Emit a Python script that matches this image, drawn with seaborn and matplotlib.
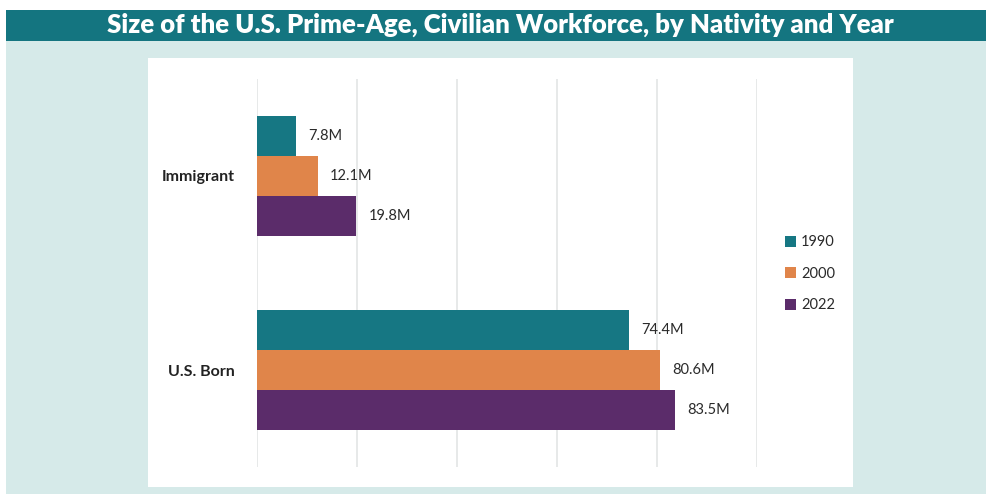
import matplotlib
matplotlib.use("Agg")
import matplotlib.pyplot as plt
from matplotlib.patches import Rectangle
import seaborn as sns
import pandas as pd

# Prime-age civilian workforce (millions) by nativity and year
categories = ["Immigrant", "U.S. Born"]
years = ["1990", "2000", "2022"]
values_1990 = [7.8, 74.4]
values_2000 = [12.1, 80.6]
values_2022 = [19.8, 83.5]
palette = ["#167783", "#E0854A", "#5B2C6A"]

rows = []
for yr, vals in zip(years, [values_1990, values_2000, values_2022]):
    for cat, v in zip(categories, vals):
        rows.append({"Nativity": cat, "Year": yr, "Workforce": v})
df = pd.DataFrame(rows)

sns.set_theme(style="white")
plt.rcParams["font.family"] = ["Lato", "DejaVu Sans"]

W, H = 987, 495
fig = plt.figure(figsize=(W / 100, H / 100), dpi=100, facecolor="white")

def fx(px):
    return px / W

def fy(py):
    return 1 - py / H

# page background, title banner and white chart panel (behind the axes)
fig.patches.append(Rectangle((fx(6), fy(494)), fx(981), (494 - 40) / H,
                             transform=fig.transFigure, facecolor="#D6EAE9",
                             edgecolor="none", zorder=-3))
fig.patches.append(Rectangle((fx(6), fy(41)), fx(981), 31 / H,
                             transform=fig.transFigure, facecolor="#147580",
                             edgecolor="none", zorder=-2))
fig.patches.append(Rectangle((fx(148), fy(487)), fx(853 - 148), (487 - 58) / H,
                             transform=fig.transFigure, facecolor="white",
                             edgecolor="none", zorder=-2))
fig.text(fx(500), fy(25), "Size of the U.S. Prime-Age, Civilian Workforce, by Nativity and Year",
         ha="center", va="center", color="white", fontsize=18.5, fontweight="heavy",
         zorder=3)

ax = fig.add_axes([fx(257), fy(467), fx(757 - 257), (467 - 79) / H])
ax.set_facecolor("none")
sns.barplot(data=df, y="Nativity", x="Workforce", hue="Year", order=categories,
            hue_order=years, palette=palette, orient="h", width=0.62,
            saturation=1, linewidth=0, ax=ax, zorder=3)

ax.set_xlim(0, 100)
ax.set_ylim(1.5, -0.5)
ax.set_xticks([0, 20, 40, 60, 80, 100])
ax.xaxis.grid(True, color="#E3E5E5", linewidth=1.2, zorder=0)
ax.set_axisbelow(True)
ax.tick_params(axis="x", labelbottom=False, length=0)
ax.tick_params(axis="y", length=0, pad=16)
for lbl in ax.get_yticklabels():
    lbl.set_fontweight("bold")
    lbl.set_fontsize(11.5)
    lbl.set_color("#222222")
for s in ax.spines.values():
    s.set_visible(False)
ax.set_xlabel("")
ax.set_ylabel("")

for cont in ax.containers:
    ax.bar_label(cont, labels=[f"{v:.1f}M" for v in cont.datavalues],
                 padding=9, fontsize=10.5, color="#2A2A2A")

leg = ax.legend(loc="center left", bbox_to_anchor=(fx(772 - 257) / fx(500), 0.498),
                frameon=False, handlelength=0.75, handleheight=0.75,
                handletextpad=0.35, labelspacing=1.2, fontsize=10.5)
for t in leg.get_texts():
    t.set_color("#2A2A2A")

fig.savefig("out.png", dpi=100, facecolor="white")
